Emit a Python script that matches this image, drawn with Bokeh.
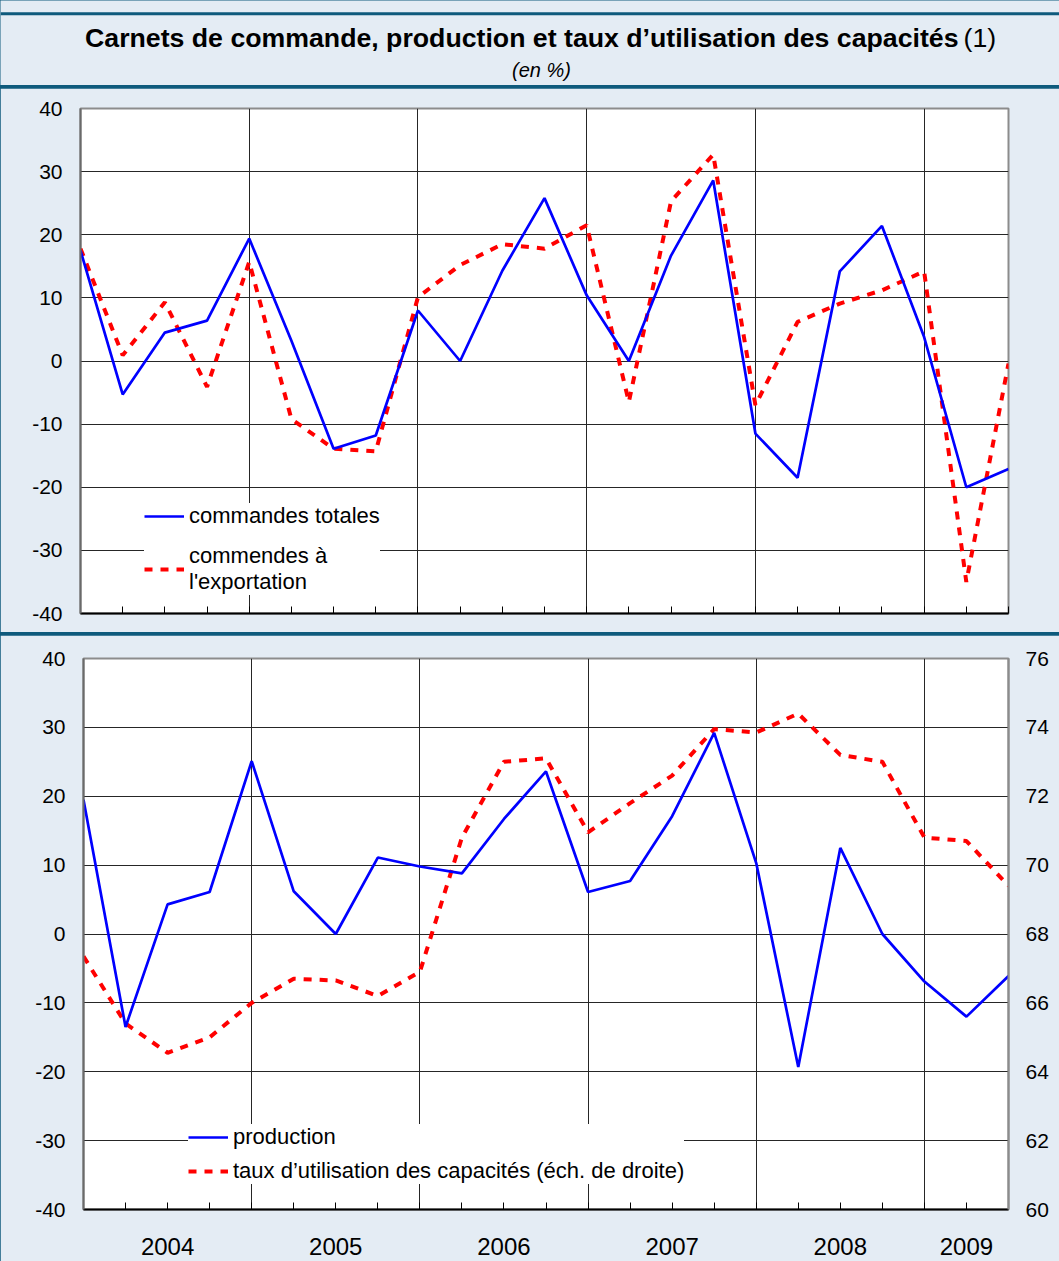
from bokeh.plotting import figure
from bokeh.models import Range1d, LinearAxis, FixedTicker, Legend, LegendItem, Span
from bokeh.layouts import column
from bokeh.embed import file_html
from bokeh.resources import INLINE
from bokeh.core.properties import value

# ---------------- data ----------------
quarters = list(range(23))  # 2004 T1 ... 2009 T3
year_labels = ["2004", "2005", "2006", "2007", "2008", "2009"]
year_label_pos = [2, 6, 10, 14, 18, 21]
year_bounds = [4, 8, 12, 16, 20]

commandes_totales = [17.5, -5.3, 4.5, 6.4, 19.4, 3.2, -13.9, -11.8, 8.0, 0.0, 14.3, 25.8,
                     10.4, 0.0, 16.7, 28.6, -11.5, -18.5, 14.2, 21.4, 3.8, -20.0, -17.1]
commandes_export = [17.8, 0.9, 9.3, -4.1, 15.7, -9.2, -13.9, -14.3, 10.1, 15.2, 18.5, 17.8,
                    21.5, -6.5, 25.3, 32.7, -7.0, 6.2, 9.1, 11.2, 14.2, -35.0, -0.4]
production = [19.5, -13.5, 4.3, 6.1, 25.1, 6.2, 0.0, 11.1, 9.8, 8.8, 16.7, 23.6,
              6.1, 7.7, 17.1, 29.2, 10.3, -19.3, 12.5, 0.0, -6.9, -12.0, -6.1]
taux_utilisation = [67.35, 65.4, 64.55, 65.0, 66.0, 66.7, 66.65, 66.2, 66.9, 70.8, 73.0, 73.1,
                    70.95, 71.8, 72.6, 73.95, 73.85, 74.4, 73.2, 73.0, 70.8, 70.7, 69.4]

left_ticks = list(range(-40, 41, 10))
right_ticks = list(range(60, 77, 2))

# ---------------- style ----------------
BG = "#E4ECF4"
TEAL = "#0E5A7C"
BLUE = "#0000FF"
RED = "#FF0000"
FONT = "Liberation Sans"
W = 1059


def style_common(p):
    p.background_fill_color = "white"
    p.border_fill_color = BG
    p.outline_line_color = "#8C8C8C"
    p.outline_line_width = 2
    # x axis
    xa = p.xaxis[0]
    xa.ticker = FixedTicker(ticks=quarters, minor_ticks=[])
    xa.major_tick_in = 7
    xa.major_tick_out = 0
    xa.major_tick_line_color = "black"
    xa.major_tick_line_width = 1
    xa.axis_line_color = "black"
    xa.axis_line_width = 2
    xa.major_label_text_font = FONT
    xa.major_label_text_color = "black"
    # left y axis
    ya = p.yaxis[0]
    ya.ticker = FixedTicker(ticks=left_ticks, minor_ticks=[])
    ya.major_label_overrides = {t: str(t) for t in left_ticks}
    ya.major_tick_in = 0
    ya.major_tick_out = 0
    ya.axis_line_color = "#6A6A6A"
    ya.axis_line_width = 2
    ya.major_label_standoff = 18
    ya.major_label_text_font = FONT
    ya.major_label_text_font_size = "21px"
    ya.major_label_text_color = "black"
    # grids
    p.ygrid.ticker = FixedTicker(ticks=list(range(-30, 31, 10)), minor_ticks=[])
    p.xgrid.ticker = FixedTicker(ticks=year_bounds, minor_ticks=[])
    p.grid.grid_line_color = "#262626"
    p.grid.grid_line_width = 1
    p.grid.grid_line_alpha = 1


def style_legend(lg):
    lg.background_fill_color = "white"
    lg.background_fill_alpha = 1
    lg.border_line_color = None
    lg.label_text_font = FONT
    lg.label_text_font_size = "22px"
    lg.label_text_color = "black"
    lg.glyph_width = 40
    lg.glyph_height = 20
    lg.label_standoff = 5
    lg.margin = 0


# ---------------- header ----------------
header = figure(width=W, height=85, x_range=Range1d(0, W), y_range=Range1d(85, 0),
                output_backend="svg", toolbar_location=None, x_axis_type=None, y_axis_type=None,
                min_border=0, min_border_left=0, min_border_right=0, min_border_top=0,
                min_border_bottom=0, frame_align=False)
header.background_fill_color = BG
header.border_fill_color = BG
header.outline_line_color = None
header.grid.visible = False
header.add_layout(Span(location=13.3, dimension="width", line_color=TEAL, line_width=3))
header.text(x=[958], y=[37], text=["Carnets de commande, production et taux d\u2019utilisation des capacit\u00e9s"],
            text_align="right", text_baseline="middle", text_font=value(FONT),
            text_font_style="bold", text_font_size="26.7px", text_color="black")
header.text(x=[963], y=[37], text=["(1)"], text_align="left", text_baseline="middle",
            text_font=value(FONT), text_font_size="26.7px", text_color="black")
header.text(x=[541], y=[69], text=["(en %)"], text_align="center", text_baseline="middle",
            text_font=value(FONT), text_font_style="italic", text_font_size="20px", text_color="black")

# ---------------- top panel ----------------
top = figure(width=W, height=544, x_range=Range1d(0, 22), y_range=Range1d(-40, 40),
             output_backend="svg", toolbar_location=None, frame_align=False,
             min_border_left=80, min_border_right=51, min_border_top=20, min_border_bottom=19)
style_common(top)
top.xaxis[0].major_label_overrides = {q: "" for q in quarters}
top.xaxis[0].major_label_text_font_size = "1px"
top.xaxis[0].major_label_standoff = 0

r_exp = top.line(quarters, commandes_export, line_color=RED, line_width=4, line_dash="8 8")
r_tot = top.line(quarters, commandes_totales, line_color=BLUE, line_width=2.7)

lg1 = Legend(items=[LegendItem(label="commandes totales", renderers=[r_tot]),
                    LegendItem(label="commendes \u00e0\nl'exportation", renderers=[r_exp])],
             location=(64, 18))
style_legend(lg1)
lg1.padding = 10
lg1.spacing = 14
top.add_layout(lg1)

# ---------------- bottom panel ----------------
bot = figure(width=W, height=626, x_range=Range1d(0, 22), y_range=Range1d(-40, 40),
             output_backend="svg", toolbar_location=None, frame_align=False,
             min_border_left=83, min_border_right=51, min_border_top=23, min_border_bottom=52)
bot.extra_y_ranges = {"right": Range1d(60, 76)}
style_common(bot)
ov = {q: "" for q in quarters}
for pos, lab in zip(year_label_pos, year_labels):
    ov[pos] = lab
bot.xaxis[0].major_label_overrides = ov
bot.xaxis[0].major_label_text_font_size = "24px"
bot.xaxis[0].major_label_standoff = 28

ra = LinearAxis(y_range_name="right", ticker=FixedTicker(ticks=right_ticks, minor_ticks=[]))
ra.major_label_overrides = {t: str(t) for t in right_ticks}
ra.major_tick_in = 0
ra.major_tick_out = 0
ra.axis_line_color = "#8C8C8C"
ra.axis_line_width = 2
ra.major_label_standoff = 17
ra.major_label_text_font = FONT
ra.major_label_text_font_size = "21px"
ra.major_label_text_color = "black"
bot.add_layout(ra, "right")

r_taux = bot.line(quarters, taux_utilisation, y_range_name="right",
                  line_color=RED, line_width=4, line_dash="8 8")
r_prod = bot.line(quarters, production, line_color=BLUE, line_width=2.7)

lg2 = Legend(items=[LegendItem(label="production", renderers=[r_prod]),
                    LegendItem(label="taux d\u2019utilisation des capacit\u00e9s (\u00e9ch. de droite)",
                               renderers=[r_taux])],
             location=(105, 25))
style_legend(lg2)
lg2.padding = 12
lg2.spacing = 8
bot.add_layout(lg2)

layout = column(header, top, bot, spacing=3, styles={"background-color": TEAL})

open("out.html", "w").write(file_html(layout, INLINE))
